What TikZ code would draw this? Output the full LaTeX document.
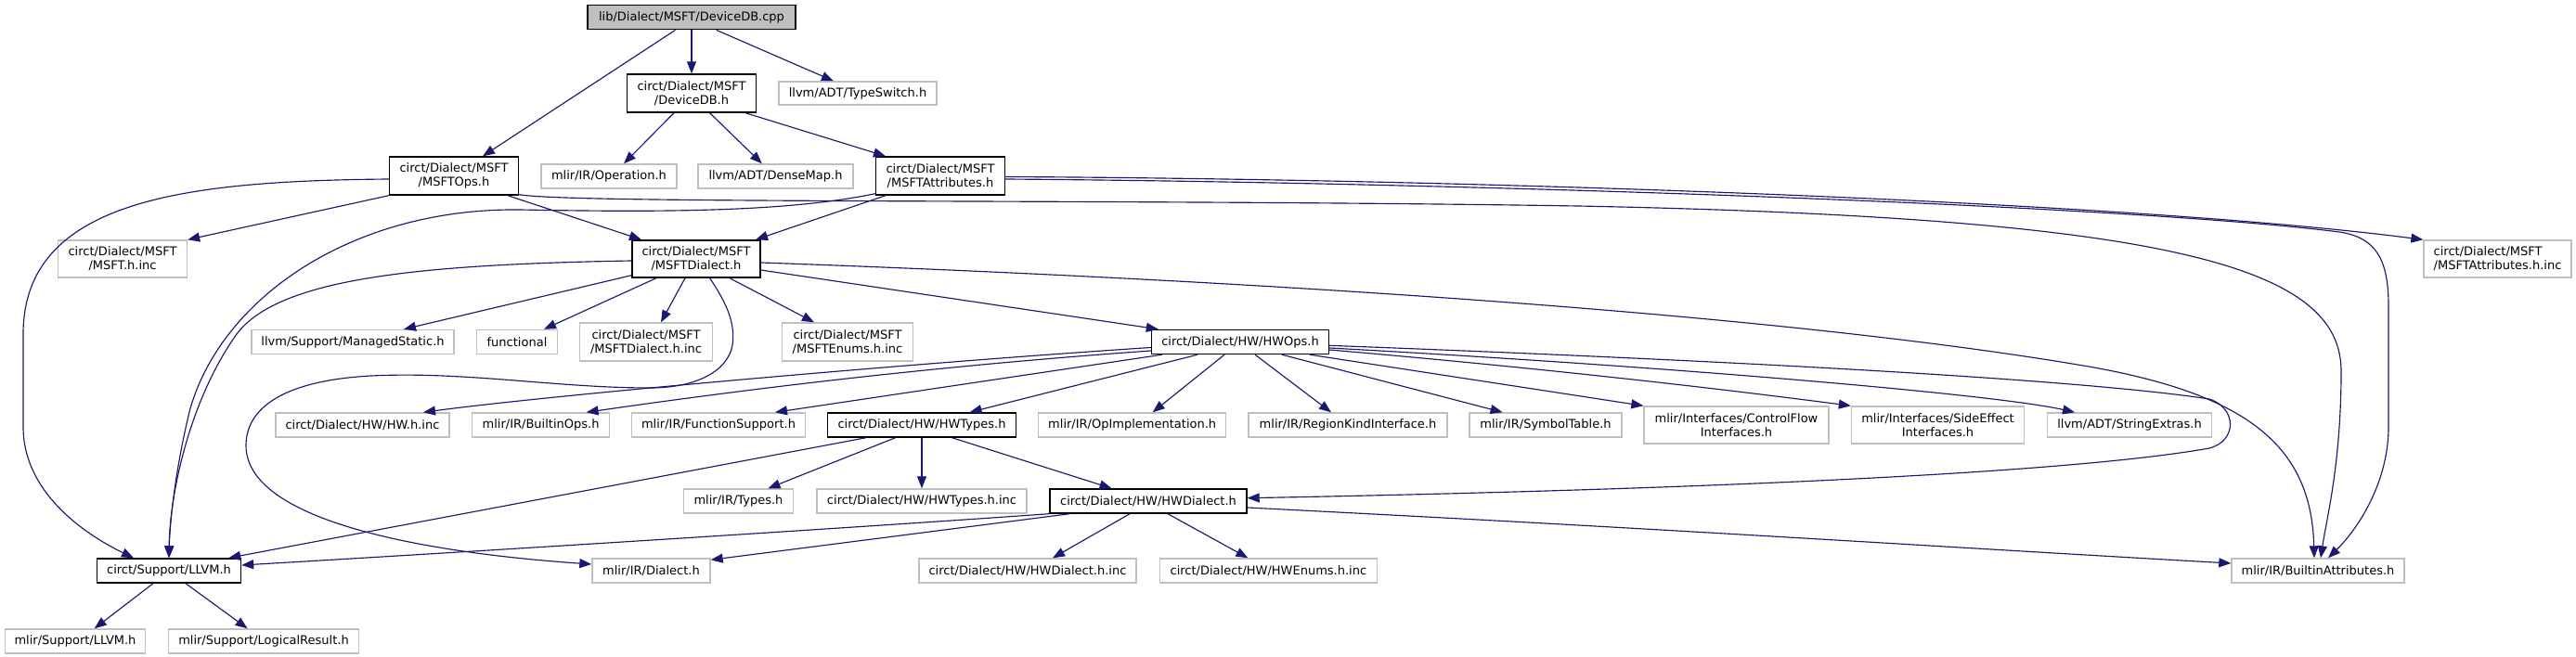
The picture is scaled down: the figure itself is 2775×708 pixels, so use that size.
\documentclass[tikz,border=0pt]{standalone}
\usepackage{fontspec}
\setmainfont{DejaVu Sans}
\usetikzlibrary{arrows.meta,calc}
\definecolor{edgec}{HTML}{191970}
\definecolor{greyb}{HTML}{BFBFBF}
\begin{document}
\begin{tikzpicture}[x=1pt,y=-1pt,
  nd/.style={draw=black,line width=1.4pt,fill=white,inner sep=0pt,align=center,font=\fontsize{13}{15}\selectfont},
  gn/.style={nd,draw=greyb},
  rootnd/.style={nd,fill=greyb},
  edge/.style={draw=edgec,line width=1.15pt,-{Triangle[length=13pt,width=10pt]}}
]
\useasboundingbox (0,0) rectangle (2775,708);
% nodes
\node[rootnd,minimum width=224pt,minimum height=26pt] (cpp) at (745,18.7) {lib/Dialect/MSFT/DeviceDB.cpp};
\node[nd,minimum width=139pt,minimum height=41pt] (ddbh) at (745,100.5) {circt/Dialect/MSFT\\/DeviceDB.h};
\node[gn,minimum width=170pt,minimum height=25pt] (typesw) at (924,100.5) {llvm/ADT/TypeSwitch.h};
\node[nd,minimum width=139pt,minimum height=41pt] (msftops) at (489,189.5) {circt/Dialect/MSFT\\/MSFTOps.h};
\node[gn,minimum width=146pt,minimum height=26pt] (operation) at (656,190) {mlir/IR/Operation.h};
\node[gn,minimum width=167pt,minimum height=26pt] (densemap) at (835.5,190) {llvm/ADT/DenseMap.h};
\node[nd,minimum width=139pt,minimum height=41pt] (msftattr) at (1013,189.5) {circt/Dialect/MSFT\\/MSFTAttributes.h};
\node[gn,minimum width=139pt,minimum height=40pt] (msfthinc) at (132,279) {circt/Dialect/MSFT\\/MSFT.h.inc};
\node[nd,minimum width=138pt,minimum height=40pt] (msftdialect) at (750,279) {circt/Dialect/MSFT\\/MSFTDialect.h};
\node[gn,minimum width=159pt,minimum height=40pt,align=left] (msftattrinc) at (2690.5,279) {circt/Dialect/MSFT\\/MSFTAttributes.h.inc};
\node[gn,minimum width=218pt,minimum height=26pt] (managed) at (380,368.5) {llvm/Support/ManagedStatic.h};
\node[gn,minimum width=87pt,minimum height=26pt] (functional) at (557,368.5) {functional};
\node[gn,minimum width=143pt,minimum height=41pt] (msftdinc) at (696,368.5) {circt/Dialect/MSFT\\/MSFTDialect.h.inc};
\node[gn,minimum width=141pt,minimum height=41pt] (msftenums) at (913,368.5) {circt/Dialect/MSFT\\/MSFTEnums.h.inc};
\node[nd,minimum width=191pt,minimum height=26pt] (hwops) at (1336,368.5) {circt/Dialect/HW/HWOps.h};
\node[gn,minimum width=187pt,minimum height=26pt] (hwhinc) at (390.5,458) {circt/Dialect/HW/HW.h.inc};
\node[gn,minimum width=148pt,minimum height=26pt] (builtinops) at (582.6,458) {mlir/IR/BuiltinOps.h};
\node[gn,minimum width=187pt,minimum height=26pt] (funcsupport) at (774,458) {mlir/IR/FunctionSupport.h};
\node[nd,minimum width=203pt,minimum height=26pt] (hwtypes) at (993,458) {circt/Dialect/HW/HWTypes.h};
\node[gn,minimum width=202pt,minimum height=26pt] (opimpl) at (1219.7,458) {mlir/IR/OpImplementation.h};
\node[gn,minimum width=214pt,minimum height=26pt] (regionkind) at (1452,458) {mlir/IR/RegionKindInterface.h};
\node[gn,minimum width=164pt,minimum height=26pt] (symtable) at (1665,458) {mlir/IR/SymbolTable.h};
\node[gn,minimum width=199pt,minimum height=40pt] (controlflow) at (1870.5,458) {mlir/Interfaces/ControlFlow\\Interfaces.h};
\node[gn,minimum width=186pt,minimum height=40pt] (sideeffect) at (2087.5,458) {mlir/Interfaces/SideEffect\\Interfaces.h};
\node[gn,minimum width=177pt,minimum height=26pt] (stringextras) at (2294,458) {llvm/ADT/StringExtras.h};
\node[gn,minimum width=118pt,minimum height=26pt] (types) at (795.5,540) {mlir/IR/Types.h};
\node[gn,minimum width=226pt,minimum height=26pt] (hwtypesinc) at (993,540) {circt/Dialect/HW/HWTypes.h.inc};
\node[nd,minimum width=212pt,minimum height=26pt] (hwdialect) at (1237,540) {circt/Dialect/HW/HWDialect.h};
\node[nd,minimum width=155pt,minimum height=26pt] (llvmh) at (182,615) {circt/Support/LLVM.h};
\node[gn,minimum width=127pt,minimum height=26pt] (dialecth) at (701.5,615) {mlir/IR/Dialect.h};
\node[gn,minimum width=234pt,minimum height=26pt] (hwdinc) at (1107,615) {circt/Dialect/HW/HWDialect.h.inc};
\node[gn,minimum width=234pt,minimum height=26pt] (hwenums) at (1366.4,615) {circt/Dialect/HW/HWEnums.h.inc};
\node[gn,minimum width=186pt,minimum height=26pt] (builtinattr) at (2497,615) {mlir/IR/BuiltinAttributes.h};
\node[gn,minimum width=151pt,minimum height=26pt] (mlirllvm) at (81,691) {mlir/Support/LLVM.h};
\node[gn,minimum width=205pt,minimum height=26pt] (logicalres) at (284,691) {mlir/Support/LogicalResult.h};
% edges
\draw[edge] ($(cpp.south)+(-17.5,0)$) -- ($(msftops.north)+(31,0)$);
\draw[edge] (cpp.south) -- (ddbh.north);
\draw[edge] ($(cpp.south)+(26.7,0)$) -- ($(typesw.north)+(-26,0)$);
\draw[edge] ($(ddbh.south)+(-19,0)$) -- ($(operation.north)+(16,0)$);
\draw[edge] ($(ddbh.south)+(19.6,0)$) -- ($(densemap.north)+(-14.7,0)$);
\draw[edge] ($(ddbh.south)+(58,0)$) -- ($(msftattr.north)+(-59,0)$);
\draw[edge] (msftops.south west) -- (msfthinc.north east);
\draw[edge] ($(msftops.south)+(58,0)$) -- ($(msftdialect.north)+(-59,0)$);
\draw[edge] ($(msftattr.south)+(-59,0)$) -- ($(msftdialect.north)+(64,0)$);
\draw[edge] ($(msftops.west)+(0,3.5)$) .. controls (200,195) and (25,215) .. (25,360) -- (25,460) .. controls (25,530) and (90,575) .. ($(llvmh.north)+(-38,0)$);
\draw[edge] ($(msftops.south east)+(0,-1)$) .. controls (620,220) and (1200,214) .. (1700,222) .. controls (2350,235) and (2522,290) .. (2522,400) .. controls (2522,500) and (2506,560) .. ($(builtinattr.north)+(3,0)$);
\draw[edge] ($(msftattr.east)+(0,1)$) .. controls (1600,193) and (2300,218) .. (msftattrinc.north west);
\draw[edge] ($(msftattr.east)+(0,3.5)$) .. controls (1600,197) and (2300,222) .. (2520,250) .. controls (2560,256) and (2573,280) .. (2573,330) -- (2573,460) .. controls (2573,520) and (2540,570) .. ($(builtinattr.north)+(11,0)$);
\draw[edge] ($(msftattr.south west)+(0,-2)$) .. controls (850,228) and (720,229) .. (560,226) .. controls (380,224) and (240,320) .. (205,440) .. controls (190,500) and (183,560) .. (llvmh.north);
\draw[edge] ($(msftdialect.west)+(0,2)$) .. controls (450,285) and (300,300) .. (255,360) .. controls (205,430) and (183,530) .. (llvmh.north);
\draw[edge] ($(msftdialect.south west)+(0,-3)$) -- ($(managed.north)+(55,0)$);
\draw[edge] ($(msftdialect.south)+(-43,0)$) -- ($(functional.north)+(29,0)$);
\draw[edge] ($(msftdialect.south)+(-12,0)$) -- ($(msftdinc.north)+(16,0)$);
\draw[edge] ($(msftdialect.south)+(36,0)$) -- ($(msftenums.north)+(-36,0)$);
\draw[edge] ($(msftdialect.east)+(0,12)$) -- ($(hwops.north west)+(8,0)$);
\draw[edge] ($(msftdialect.east)+(0,4)$) .. controls (1300,300) and (1900,335) .. (2250,395) .. controls (2420,425) and (2490,480) .. ($(builtinattr.north)+(-4,0)$);
\draw[edge] ($(msftdialect.south)+(14.6,0)$) .. controls (785,330) and (792,350) .. (789,372) .. controls (784,400) and (750,418) .. (700,418) .. controls (600,418) and (500,400) .. (400,405) .. controls (305,410) and (265,440) .. (265,480) .. controls (265,560) and (450,595) .. ($(dialecth.west)+(0,-7)$);
\draw[edge] ($(hwops.west)+(0,6)$) .. controls (1000,390) and (600,425) .. ($(hwhinc.north)+(65.5,0)$);
\draw[edge] ($(hwops.west)+(0,9.5)$) .. controls (1000,395) and (800,420) .. ($(builtinops.north)+(49,0)$);
\draw[edge] ($(hwops.south west)+(12,0)$) -- ($(funcsupport.north)+(61,0)$);
\draw[edge] ($(hwops.south)+(-46,0)$) -- ($(hwtypes.north)+(51.6,0)$);
\draw[edge] ($(hwops.south)+(-17,0)$) -- ($(opimpl.north)+(22,0)$);
\draw[edge] ($(hwops.south)+(16,0)$) -- ($(regionkind.north)+(-18,0)$);
\draw[edge] ($(hwops.south)+(45,0)$) -- ($(symtable.north)+(-46.4,0)$);
\draw[edge] ($(hwops.south)+(75,0)$) -- (controlflow.north west);
\draw[edge] ($(hwops.east)+(0,8.5)$) .. controls (1700,400) and (1900,425) .. (sideeffect.north west);
\draw[edge] ($(hwops.east)+(0,6.5)$) .. controls (1800,395) and (2150,425) .. ($(stringextras.north)+(-59,0)$);
\draw[edge] ($(hwops.east)+(0,3.8)$) .. controls (1900,390) and (2250,410) .. (2380,430) .. controls (2410,440) and (2410,475) .. (2380,483) .. controls (2200,515) and (1700,530) .. ($(hwdialect.east)+(0,-3.3)$);
\draw[edge] ($(hwtypes.south)+(-60,0)$) -- ($(llvmh.north east)+(-14,0)$);
\draw[edge] ($(hwtypes.south)+(-28.4,0)$) -- ($(types.north)+(32,0)$);
\draw[edge] (hwtypes.south) -- (hwtypesinc.north);
\draw[edge] ($(hwtypes.south)+(32.5,0)$) -- ($(hwdialect.north)+(-39.5,0)$);
\draw[edge] (hwdialect.south west) .. controls (900,570) and (500,595) .. ($(llvmh.east)+(0,-6)$);
\draw[edge] ($(hwdialect.south west)+(22,0)$) -- ($(dialecth.north east)+(0,2)$);
\draw[edge] ($(hwdialect.south)+(-20,0)$) -- ($(hwdinc.north)+(27,0)$);
\draw[edge] ($(hwdialect.south)+(21,0)$) -- ($(hwenums.north)+(-22,0)$);
\draw[edge] ($(hwdialect.east)+(0,7)$) .. controls (1800,570) and (2100,590) .. ($(builtinattr.west)+(0,-8)$);
\draw[edge] ($(llvmh.south)+(-17,0)$) -- ($(mlirllvm.north)+(20.7,0)$);
\draw[edge] ($(llvmh.south)+(18,0)$) -- ($(logicalres.north)+(-17.4,0)$);
\end{tikzpicture}
\end{document}
